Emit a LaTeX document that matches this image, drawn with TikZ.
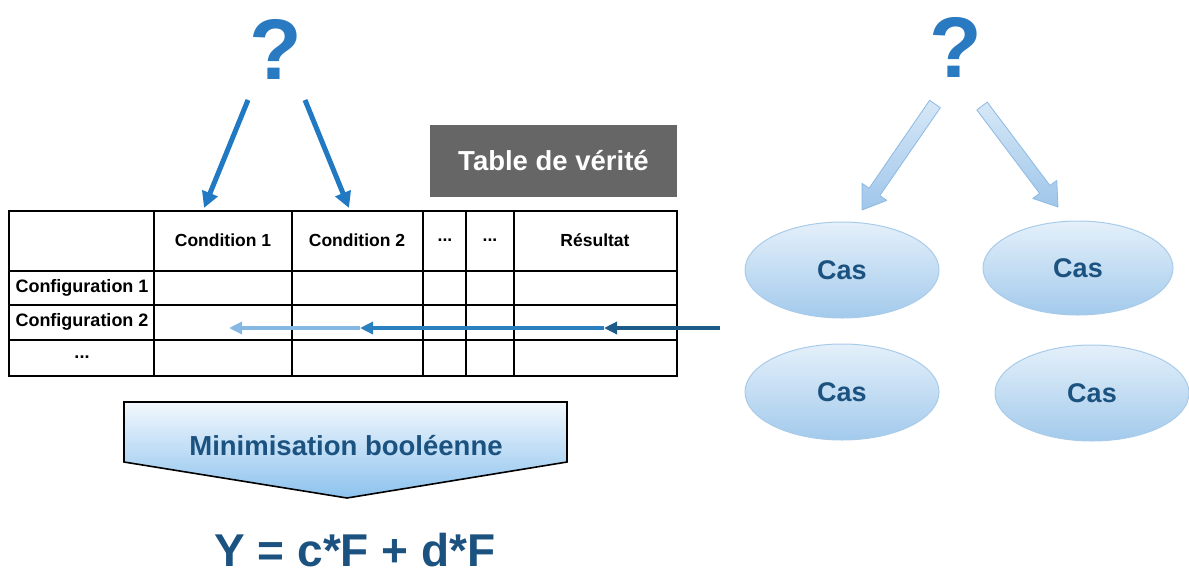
\documentclass[tikz,border=0pt]{standalone}
\usepackage{fontspec}
\setmainfont{Liberation Sans}
\usetikzlibrary{shapes.geometric,arrows.meta,calc}
\definecolor{qblue}{HTML}{2A7AC2}
\definecolor{arrblue}{HTML}{2079C2}
\definecolor{hdark}{HTML}{1C5A8A}
\definecolor{hmid}{HTML}{2A7FBF}
\definecolor{hlight}{HTML}{85B9E3}
\definecolor{txtblue}{HTML}{1C527F}
\definecolor{elltop}{HTML}{E4F0FA}
\definecolor{ellbot}{HTML}{A3CAEC}
\definecolor{elldraw}{HTML}{A9CBEA}
\definecolor{fattop}{HTML}{D6E8F7}
\definecolor{fatbot}{HTML}{9FC6EA}
\definecolor{fatdraw}{HTML}{8DB9E2}
\definecolor{mintop}{HTML}{F2F8FD}
\definecolor{minbot}{HTML}{8CC2EE}
\definecolor{graybox}{HTML}{666666}
\tikzset{
  cell/.style={font=\bfseries\fontsize{17.5}{20}\selectfont, inner sep=0pt},
  rowcell/.style={font=\bfseries\fontsize{18}{20}\selectfont, inner sep=0pt},
  qmark/.style={font=\bfseries\fontsize{86}{90}\selectfont, text=qblue, inner sep=0pt},
  cas/.style={ellipse, minimum width=194pt, minimum height=96pt, inner sep=0pt,
    top color=elltop, bottom color=ellbot, draw=elldraw, line width=1pt,
    text=txtblue, font=\bfseries\fontsize{27}{30}\selectfont},
  bluearrow/.style={draw=arrblue, line width=5pt, -{Triangle[length=16pt,width=16pt]}},
  harrow/.style={line width=4pt, -{Triangle[length=13pt,width=12pt]}},
  tline/.style={line width=1.8pt, line cap=rect},
  fatarrow/.style={top color=fattop, bottom color=fatbot, draw=fatdraw, line width=0.8pt, line join=round}
}
\begin{document}
\begin{tikzpicture}[x=1pt,y=-1pt]
\useasboundingbox (0,0) rectangle (1189,574);

% question marks
\node[qmark] (q1) at (276,49) {?};
\node[qmark] (q2) at (956,47) {?};

% left blue arrows
\coordinate (a1s) at (248,100);
\coordinate (a1e) at (204,208);
\coordinate (a2s) at (305,100);
\coordinate (a2e) at (349,208);
\draw[bluearrow] (a1s) -- (a1e);
\draw[bluearrow] (a2s) -- (a2e);

% Table de verite box
\node[fill=graybox, minimum width=247pt, minimum height=72pt, inner sep=0pt,
  text=white, font=\bfseries\fontsize{27.5}{30}\selectfont] (tdv) at (553.5,161) {Table de vérité};

% table
\draw[tline] (9,211) rectangle (677,376);
\foreach \y in {271,305,340} \draw[tline] (9,\y) -- (677,\y);
\foreach \x in {154,292,423,466,514} \draw[tline] (\x,211) -- (\x,376);

\node[cell] (c1) at (223,240) {Condition 1};
\node[cell] (c2) at (357,240) {Condition 2};
\node[cell] (d1) at (445,240) {...};
\node[cell] (d2) at (490,240) {...};
\node[cell] (res) at (595,240) {Résultat};
\node[rowcell] (r1) at (82,288) {Configuration 1};
\node[rowcell] (r2) at (82,322) {Configuration 2};
\node[rowcell] (r3) at (82,357) {...};

% horizontal arrows
\coordinate (h0) at (720,328);
\coordinate (h1) at (604,328);
\coordinate (h2) at (360,328);
\coordinate (h3) at (229,328);
\draw[harrow, draw=hlight] (h2) -- (h3);
\draw[harrow, draw=hmid] (h1) -- (h2);
\draw[harrow, draw=hdark] (h0) -- (h1);

% minimisation arrow shape
\fill[top color=mintop, bottom color=minbot] (124,402) -- (567,402) -- (567,462) -- (347,498) -- (124,462) -- cycle;
\draw[line width=1.6pt, line join=miter] (124,402) -- (567,402) -- (567,462) -- (347,498) -- (124,462) -- cycle;
\node[text=txtblue, font=\bfseries\fontsize{27.5}{31}\selectfont, inner sep=0pt] (mini) at (346,446) {Minimisation booléenne};

% formula
\node[text=txtblue, font=\bfseries\fontsize{46}{50}\selectfont, inner sep=0pt] (formula) at (355,550) {Y = c*F + d*F};

% ellipses
\node[cas] (e1) at (842,270) {Cas};
\node[cas, minimum width=190pt, minimum height=94pt] (e2) at (1078,268) {Cas};
\node[cas] (e3) at (842,392) {Cas};
\node[cas] (e4) at (1092,393) {Cas};

% fat arrows
\coordinate (fa1) at (935,104);
\coordinate (fb1) at (862,210);
\coordinate (fa2) at (982,106);
\coordinate (fb2) at (1058,207);
\foreach \A/\B in {fa1/fb1, fa2/fb2}{
  \coordinate (H) at ($(\B)!22pt!(\A)$);
  \path[fatarrow] ($(\A)!6.5pt!90:(\B)$) -- ($(H)!6.5pt!90:(\B)$) -- ($(H)!15pt!90:(\B)$) -- (\B)
    -- ($(H)!15pt!-90:(\B)$) -- ($(H)!6.5pt!-90:(\B)$) -- ($(\A)!6.5pt!-90:(\B)$) -- cycle;
}
\end{tikzpicture}
\end{document}
